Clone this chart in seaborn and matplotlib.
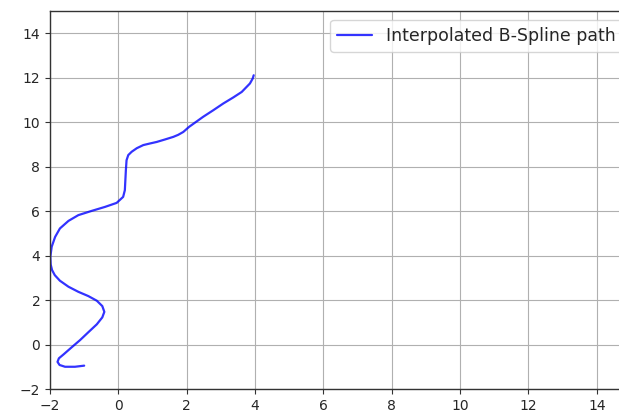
import matplotlib
matplotlib.use("Agg")
import matplotlib.pyplot as plt
import seaborn as sns
import pandas as pd

# Points along the interpolated B-spline path
path_x = [-1.00, -1.27, -1.56, -1.72, -1.78, -1.74, -1.60, -1.37, -1.12, -0.88,
          -0.63, -0.47, -0.41, -0.47, -0.63, -0.88, -1.17, -1.46, -1.71, -1.86,
          -1.94, -1.98, -1.99, -1.95, -1.85, -1.71, -1.46, -1.17, -0.78, -0.39,
          -0.05, 0.14, 0.19, 0.21, 0.22, 0.24, 0.29, 0.39, 0.54, 0.73,
          0.92, 1.12, 1.36, 1.61, 1.75, 1.90, 2.07, 2.48, 2.78, 3.07,
          3.36, 3.61, 3.85, 3.93, 3.96]
path_y = [-0.95, -1.00, -1.00, -0.92, -0.78, -0.62, -0.44, -0.13, 0.20, 0.55,
          0.91, 1.22, 1.47, 1.73, 1.97, 2.18, 2.37, 2.60, 2.87, 3.12,
          3.35, 3.60, 3.95, 4.40, 4.84, 5.22, 5.56, 5.82, 6.01, 6.19,
          6.37, 6.64, 6.94, 7.54, 7.84, 8.29, 8.52, 8.67, 8.83, 8.97,
          9.04, 9.11, 9.22, 9.34, 9.43, 9.56, 9.79, 10.24, 10.54, 10.84,
          11.11, 11.36, 11.74, 11.96, 12.11]

df = pd.DataFrame({"x": path_x, "y": path_y})

sns.set_style("ticks")
plt.rcParams["font.family"] = ["DejaVu Sans"]

fig = plt.figure(figsize=(6.19, 4.19), dpi=100)
ax = fig.add_axes([50 / 619, 30 / 419, 581 / 619, 378 / 419])

sns.lineplot(data=df, x="x", y="y", sort=False, estimator=None, ax=ax,
             color="b", alpha=0.8, linewidth=1.6, label="Interpolated B-Spline path")

ax.set_xlim(-2, 15)
ax.set_ylim(-2, 15)
ax.set_xticks(range(-2, 16, 2))
ax.set_yticks(range(-2, 16, 2))
ax.grid(True, color="#b0b0b0", linewidth=0.8)
ax.set_xlabel("")
ax.set_ylabel("")
ax.tick_params(labelsize=10, colors="#333333", labelcolor="#262626")
for s in ax.spines.values():
    s.set_color("#333333")
    s.set_linewidth(1.0)
ax.legend(loc="upper right", fontsize=12.5, frameon=True)

fig.savefig("out.png", dpi=100)
